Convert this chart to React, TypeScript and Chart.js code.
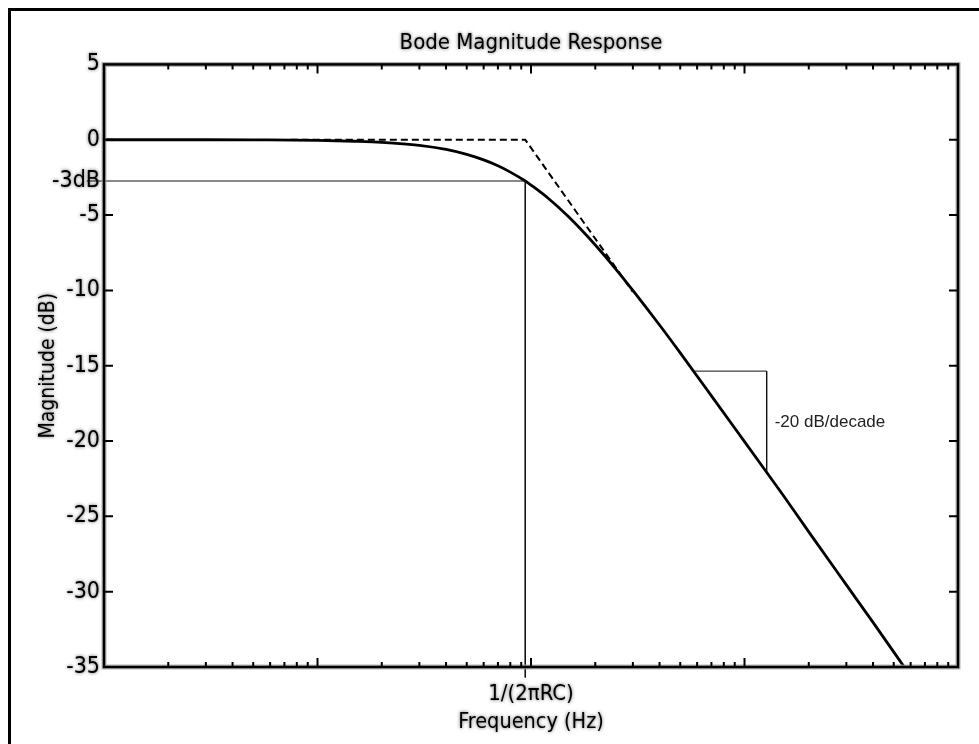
import React, { useEffect, useRef } from 'react';
import { Chart, registerables } from 'chart.js';

Chart.register(...registerables);

const titleText = 'Bode Magnitude Response';
const xTitle = 'Frequency (Hz)';
const yTitle = 'Magnitude (dB)';

const xMin = 0.01;
const xMax = 100;
const yMin = -35;
const yMax = 5;

const curveFreq = [0.01, 0.03, 0.05, 0.1, 0.15, 0.2, 0.3, 0.4, 0.5, 0.6, 0.7, 0.8, 0.94, 1, 1.2, 1.5, 2, 2.5, 3, 4, 5, 7, 10, 15, 20, 30, 40, 56];
const curveDb = [0, 0, -0.01, -0.04, -0.1, -0.17, -0.37, -0.64, -0.97, -1.34, -1.73, -2.15, -2.74, -3.01, -3.87, -5.12, -6.99, -8.6, -10.0, -12.3, -14.15, -17.0, -20.04, -23.5, -26.03, -29.55, -32.04, -35.0];

// Straight-line asymptote (dashed)
const asymFreq = [0.075, 0.94, 3.0];
const asymDb = [0, 0, -10.1];

// -3 dB marker lines
const cutoffFreq = 0.94;
const cutoffDb = -2.74;
const cutoffLineStart = 0.0083;
const cutoffLineBottom = -35.7;

// slope triangle
const slopeFreq = [5.74, 12.7, 12.7];
const slopeDb = [-15.36, -15.36, -22.0];
const slopeLabel = '-20 dB/decade';
const slopeLabelDb = -18.75;

// tick labels
const yTickValues = [5, 0, -2.74, -5, -10, -15, -20, -25, -30, -35];
const yTickLabels = ['5', '0', '-3dB', '-5', '-10', '-15', '-20', '-25', '-30', '-35'];
const xTickValues = [1];
const xTickLabels = ['1/(2\u03c0RC)'];

// frame tick marks
const xMinorTicks = [
  0.02, 0.03, 0.04, 0.05, 0.06, 0.07, 0.08, 0.09,
  0.2, 0.3, 0.4, 0.5, 0.6, 0.7, 0.8, 0.9,
  2, 3, 4, 5, 6, 7, 8, 9,
  20, 30, 40, 50, 60, 70, 80, 90,
];
const xMajorTicks = [0.1, 1, 10];
const yFrameTicks = [0, -5, -10, -15, -20, -25, -30];

const NARROW = "'Liberation Sans Narrow', 'Arial Narrow', 'DejaVu Sans Condensed', sans-serif";
const REGULAR = "'Liberation Sans', Arial, sans-serif";

const pts = (xs: number[], ys: number[]) => xs.map((x, i) => ({ x, y: ys[i] }));

const haloPlugin = {
  id: 'halo',
  beforeDraw(chart: any) {
    const ctx = chart.ctx;
    ctx.shadowColor = 'rgba(90,90,90,1)';
    ctx.shadowBlur = 3.5;
    ctx.shadowOffsetX = 0;
    ctx.shadowOffsetY = 0;
  },
  beforeDatasetsDraw(chart: any) {
    const ctx = chart.ctx;
    ctx.shadowColor = 'rgba(0,0,0,0)';
    ctx.shadowBlur = 0;
  },
};

const framePlugin = {
  id: 'frame',
  afterDatasetsDraw(chart: any) {
    const { ctx, chartArea, scales } = chart;
    const { left, right, top, bottom } = chartArea;
    const xs = scales.x;
    const ys = scales.y;
    ctx.save();
    ctx.shadowColor = 'rgba(0,0,0,0)';
    ctx.shadowBlur = 0;
    // border halo
    ctx.strokeStyle = 'rgba(160,160,160,0.8)';
    ctx.lineWidth = 5;
    ctx.strokeRect(left, top, right - left, bottom - top);
    ctx.strokeStyle = '#000';
    ctx.lineWidth = 2.5;
    ctx.strokeRect(left, top, right - left, bottom - top);
    // ticks
    ctx.lineWidth = 2;
    ctx.beginPath();
    xMinorTicks.forEach((v) => {
      const px = xs.getPixelForValue(v);
      ctx.moveTo(px, bottom);
      ctx.lineTo(px, bottom - 5);
      ctx.moveTo(px, top);
      ctx.lineTo(px, top + 5);
    });
    xMajorTicks.forEach((v) => {
      const px = xs.getPixelForValue(v);
      ctx.moveTo(px, bottom);
      ctx.lineTo(px, bottom - 9);
      ctx.moveTo(px, top);
      ctx.lineTo(px, top + 9);
    });
    yFrameTicks.forEach((v) => {
      const py = ys.getPixelForValue(v);
      ctx.moveTo(left, py);
      ctx.lineTo(left + 9, py);
      ctx.moveTo(right, py);
      ctx.lineTo(right - 9, py);
    });
    ctx.stroke();
    // slope annotation
    ctx.font = `17px ${REGULAR}`;
    ctx.fillStyle = '#222';
    ctx.textAlign = 'left';
    ctx.textBaseline = 'middle';
    ctx.fillText(slopeLabel, xs.getPixelForValue(slopeFreq[1]) + 8, ys.getPixelForValue(slopeLabelDb));
    ctx.restore();
  },
};

export default function App() {
  const ref = useRef<HTMLCanvasElement | null>(null);

  useEffect(() => {
    if (!ref.current) return;
    const chart = new Chart(ref.current, {
      type: 'line',
      data: {
        datasets: [
          {
            data: pts([cutoffLineStart, cutoffFreq], [cutoffDb, cutoffDb]),
            borderColor: '#111',
            borderWidth: 1,
            pointRadius: 0,
            clip: false as any,
          },
          {
            data: pts([cutoffFreq, cutoffFreq], [cutoffDb, cutoffLineBottom]),
            borderColor: '#111',
            borderWidth: 1,
            pointRadius: 0,
            clip: false as any,
          },
          {
            data: pts(slopeFreq, slopeDb),
            borderColor: '#111',
            borderWidth: 1,
            pointRadius: 0,
          },
          {
            data: pts(asymFreq, asymDb),
            borderColor: '#000',
            borderWidth: 2,
            borderDash: [7, 4],
            pointRadius: 0,
          },
          {
            data: pts(curveFreq, curveDb),
            borderColor: '#000',
            borderWidth: 2.8,
            pointRadius: 0,
            cubicInterpolationMode: 'monotone',
          },
        ],
      },
      options: {
        animation: false,
        responsive: false,
        events: [],
        layout: { padding: { left: 0, right: 21, top: 0, bottom: 0 } },
        plugins: {
          legend: { display: false },
          tooltip: { enabled: false },
          title: {
            display: true,
            fullSize: false,
            text: titleText,
            color: '#000',
            font: { family: NARROW, size: 22, weight: 'normal' },
            padding: { top: 30, bottom: 8 },
          },
        },
        scales: {
          x: {
            type: 'logarithmic',
            min: xMin,
            max: xMax,
            grid: { display: false, drawTicks: false, tickLength: 0 },
            border: { display: false },
            afterBuildTicks: (scale: any) => {
              scale.ticks = xTickValues.map((v) => ({ value: v }));
            },
            afterFit: (scale: any) => {
              scale.height = 77;
            },
            ticks: {
              autoSkip: false,
              maxRotation: 0,
              padding: 14,
              color: '#000',
              font: { family: NARROW, size: 22 },
              callback: (v: any) => {
                const i = xTickValues.indexOf(Number(v));
                return i >= 0 ? xTickLabels[i] : '';
              },
            },
            title: {
              display: true,
              text: xTitle,
              color: '#000',
              font: { family: NARROW, size: 21.5 },
              padding: { top: 0, bottom: 9 },
            },
          },
          y: {
            type: 'linear',
            min: yMin,
            max: yMax,
            grid: { display: false, drawTicks: false, tickLength: 0 },
            border: { display: false },
            afterBuildTicks: (scale: any) => {
              scale.ticks = yTickValues.map((v) => ({ value: v }));
            },
            afterFit: (scale: any) => {
              scale.width = 104;
            },
            ticks: {
              autoSkip: false,
              padding: 4,
              color: '#000',
              font: { family: NARROW, size: 23 },
              callback: (v: any) => {
                const i = yTickValues.indexOf(Number(v));
                return i >= 0 ? yTickLabels[i] : '';
              },
            },
            title: {
              display: true,
              text: yTitle,
              color: '#000',
              font: { family: NARROW, size: 21 },
              padding: { top: 36, bottom: 0 },
            },
          },
        },
      },
      plugins: [haloPlugin, framePlugin],
    } as any);
    return () => chart.destroy();
  }, []);

  return (
    <div>
      <div
        style={{
          position: 'fixed',
          left: 8,
          top: 8,
          width: 980,
          height: 740,
          borderLeft: '3px solid #000',
          borderTop: '3px solid #000',
          pointerEvents: 'none',
        }}
      />
      <canvas
        ref={ref}
        width={979}
        height={744}
        style={{ position: 'fixed', left: 0, top: 0, width: 979, height: 744, display: 'block' }}
      />
    </div>
  );
}
